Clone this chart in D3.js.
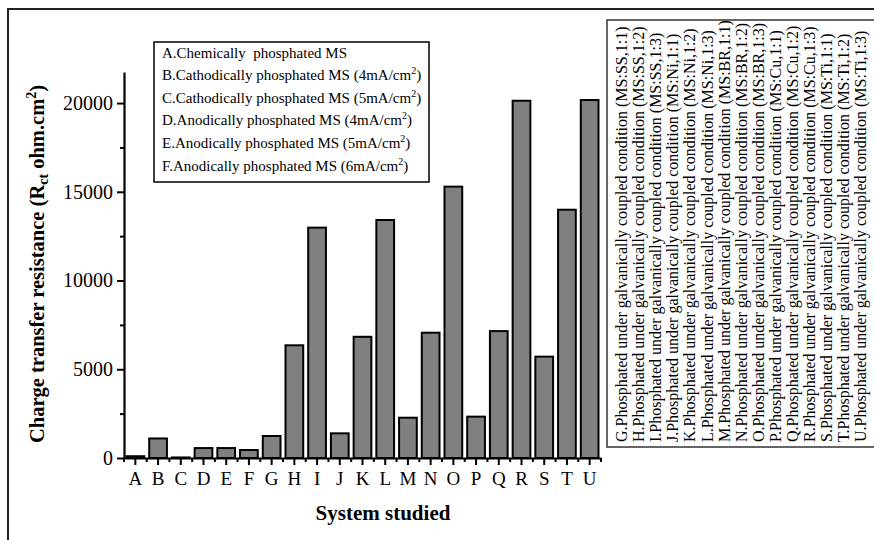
<!DOCTYPE html>
<html>
<head>
<meta charset="utf-8">
<script src="https://cdn.jsdelivr.net/npm/d3@7"></script>
<style>
  body { margin: 0; background: #fff; }
  svg text { font-family: "Liberation Serif", "Times New Roman", serif; fill: #000; }
</style>
</head>
<body>
<script>
const SVG_WIDTH = 874;
const SVG_HEIGHT = 540;

////// data ///////

var categories = ["A", "B", "C", "D", "E", "F", "G", "H", "I", "J", "K",
                  "L", "M", "N", "O", "P", "Q", "R", "S", "T", "U"];

// Rct, ohm.cm2
var rctValues = [100, 1100, 30, 560, 560, 450, 1240, 6350, 12980, 1390, 6830,
                 13410, 2270, 7060, 15290, 2330, 7150, 20130, 5710, 13990, 20170];

var yTicks = [0, 5000, 10000, 15000, 20000];
var yMinorTicks = [2500, 7500, 12500, 17500];

// "^2" marks a superscript 2
var leftLegend = [
    "A.Chemically  phosphated MS",
    "B.Cathodically phosphated MS (4mA/cm^2)",
    "C.Cathodically phosphated MS (5mA/cm^2)",
    "D.Anodically phosphated MS (4mA/cm^2)",
    "E.Anodically phosphated MS (5mA/cm^2)",
    "F.Anodically phosphated MS (6mA/cm^2)"
];

var rightLegend = [
    "G.Phosphated under galvanically coupled condition (MS:SS,1:1)",
    "H.Phosphated under galvanically coupled condition (MS:SS,1:2)",
    "I.Phosphated under galvanically coupled condition (MS:SS,1:3)",
    "J.Phosphated under galvanically coupled condition (MS:Ni,1:1)",
    "K.Phosphated under galvanically coupled condition (MS:Ni,1:2)",
    "L.Phosphated under galvanically coupled condition (MS:Ni,1:3)",
    "M.Phosphated under galvanically coupled condition (MS:BR,1:1)",
    "N.Phosphated under galvanically coupled condition (MS:BR,1:2)",
    "O.Phosphated under galvanically coupled condition (MS:BR,1:3)",
    "P.Phosphated under galvanically coupled condition (MS:Cu,1:1)",
    "Q.Phosphated under galvanically coupled condition (MS:Cu,1:2)",
    "R.Phosphated under galvanically coupled condition (MS:Cu,1:3)",
    "S.Phosphated under galvanically coupled condition (MS:Ti,1:1)",
    "T.Phosphated under galvanically coupled condition (MS:Ti,1:2)",
    "U.Phosphated under galvanically coupled condition (MS:Ti,1:3)"
];

////// setup ///////

var svg = d3.select("body")
    .append("svg")
    .attr("width", SVG_WIDTH)
    .attr("height", SVG_HEIGHT);

svg.append("rect")
    .attr("width", SVG_WIDTH)
    .attr("height", SVG_HEIGHT)
    .attr("fill", "#fff");

// outer frame, right and bottom edges run off the page
svg.append("rect")
    .attr("x", 8)
    .attr("y", 9)
    .attr("width", 920)
    .attr("height", 600)
    .attr("fill", "none")
    .attr("stroke", "#222")
    .attr("stroke-width", 2);

var x = d3.scaleBand()
    .domain(categories)
    .range([124, 601])
    .paddingInner(0.22)
    .paddingOuter(0.11);

var y = d3.scaleLinear()
    .domain([0, 21750])
    .range([458, 72]);

////////// bars //////////

svg.append("g")
    .selectAll("rect")
    .data(rctValues)
    .enter()
    .append("rect")
    .attr("x", function(d, i) { return x(categories[i]); })
    .attr("y", function(d) { return y(d); })
    .attr("width", x.bandwidth())
    .attr("height", function(d) { return y(0) - y(d); })
    .attr("fill", "#808080")
    .attr("stroke", "#000")
    .attr("stroke-width", 2);

////////// axes //////////

var yAxis = svg.append("g")
    .attr("transform", "translate(124,0)")
    .call(d3.axisLeft(y)
        .tickValues(yTicks)
        .tickFormat(d3.format("d"))
        .tickSize(7)
        .tickSizeOuter(0)
        .tickPadding(4));

svg.append("g")
    .attr("transform", "translate(124,0)")
    .call(d3.axisLeft(y).tickValues(yMinorTicks).tickSize(4).tickSizeOuter(0).tickFormat(""))
    .select(".domain").remove();

var xAxis = svg.append("g")
    .attr("transform", "translate(0,458)")
    .call(d3.axisBottom(x).tickSize(7).tickSizeOuter(0).tickPadding(5));

// small ticks on the band edges
svg.append("g")
    .selectAll("line")
    .data(categories.concat(["end"]))
    .enter()
    .append("line")
    .attr("x1", function(d, i) { return x.range()[0] + x.step() * i; })
    .attr("x2", function(d, i) { return x.range()[0] + x.step() * i; })
    .attr("y1", 458)
    .attr("y2", 462)
    .attr("stroke", "#000")
    .attr("stroke-width", 2);

svg.selectAll(".domain").attr("stroke-width", 2.2);
svg.selectAll(".tick line").attr("stroke-width", 2);
svg.selectAll(".tick text")
    .style("font-family", "'Liberation Serif', serif")
    .attr("font-size", 19);
yAxis.selectAll(".tick text").attr("font-size", 20);
xAxis.selectAll(".tick text").attr("dy", "0.8em");

// axis titles
var yTitle = svg.append("text")
    .attr("transform", "translate(44,264) rotate(-90)")
    .attr("text-anchor", "middle")
    .attr("font-size", 20.5)
    .attr("font-weight", "bold");
yTitle.append("tspan").text("Charge transfer resistance (R");
yTitle.append("tspan").attr("font-size", 14).attr("dy", 4).text("ct");
yTitle.append("tspan").attr("dy", -4).text(" ohm.cm");
yTitle.append("tspan").attr("font-size", 14).attr("dy", -8).text("2");
yTitle.append("tspan").attr("dy", 8).text(")");

svg.append("text")
    .attr("x", 383)
    .attr("y", 520)
    .attr("text-anchor", "middle")
    .attr("font-size", 21)
    .attr("font-weight", "bold")
    .text("System studied");

////////// legends //////////

svg.append("rect")
    .attr("x", 154)
    .attr("y", 42)
    .attr("width", 275)
    .attr("height", 140)
    .attr("fill", "#fff")
    .attr("stroke", "#000")
    .attr("stroke-width", 1.5);

var leftText = svg.append("g")
    .selectAll("text")
    .data(leftLegend)
    .enter()
    .append("text")
    .attr("x", 162)
    .attr("y", function(d, i) { return 57.5 + i * 22.6; })
    .attr("font-size", 15)
    .style("white-space", "pre");

leftText.each(function(d) {
    var parts = d.split("^2");
    var t = d3.select(this);
    t.append("tspan").text(parts[0]);
    if (parts.length > 1) {
        t.append("tspan").attr("font-size", 10).attr("dy", -6).text("2");
        t.append("tspan").attr("dy", 6).text(parts[1]);
    }
});

svg.append("rect")
    .attr("x", 607)
    .attr("y", 20)
    .attr("width", 320)
    .attr("height", 427)
    .attr("fill", "#fff")
    .attr("stroke", "#333")
    .attr("stroke-width", 1.5);

svg.append("g")
    .selectAll("text")
    .data(rightLegend)
    .enter()
    .append("text")
    .attr("transform", function(d, i) { return "translate(" + (627 + i * 17.1) + ",442) rotate(-90)"; })
    .attr("font-size", 16)
    .text(function(d) { return d; });
</script>
</body>
</html>
